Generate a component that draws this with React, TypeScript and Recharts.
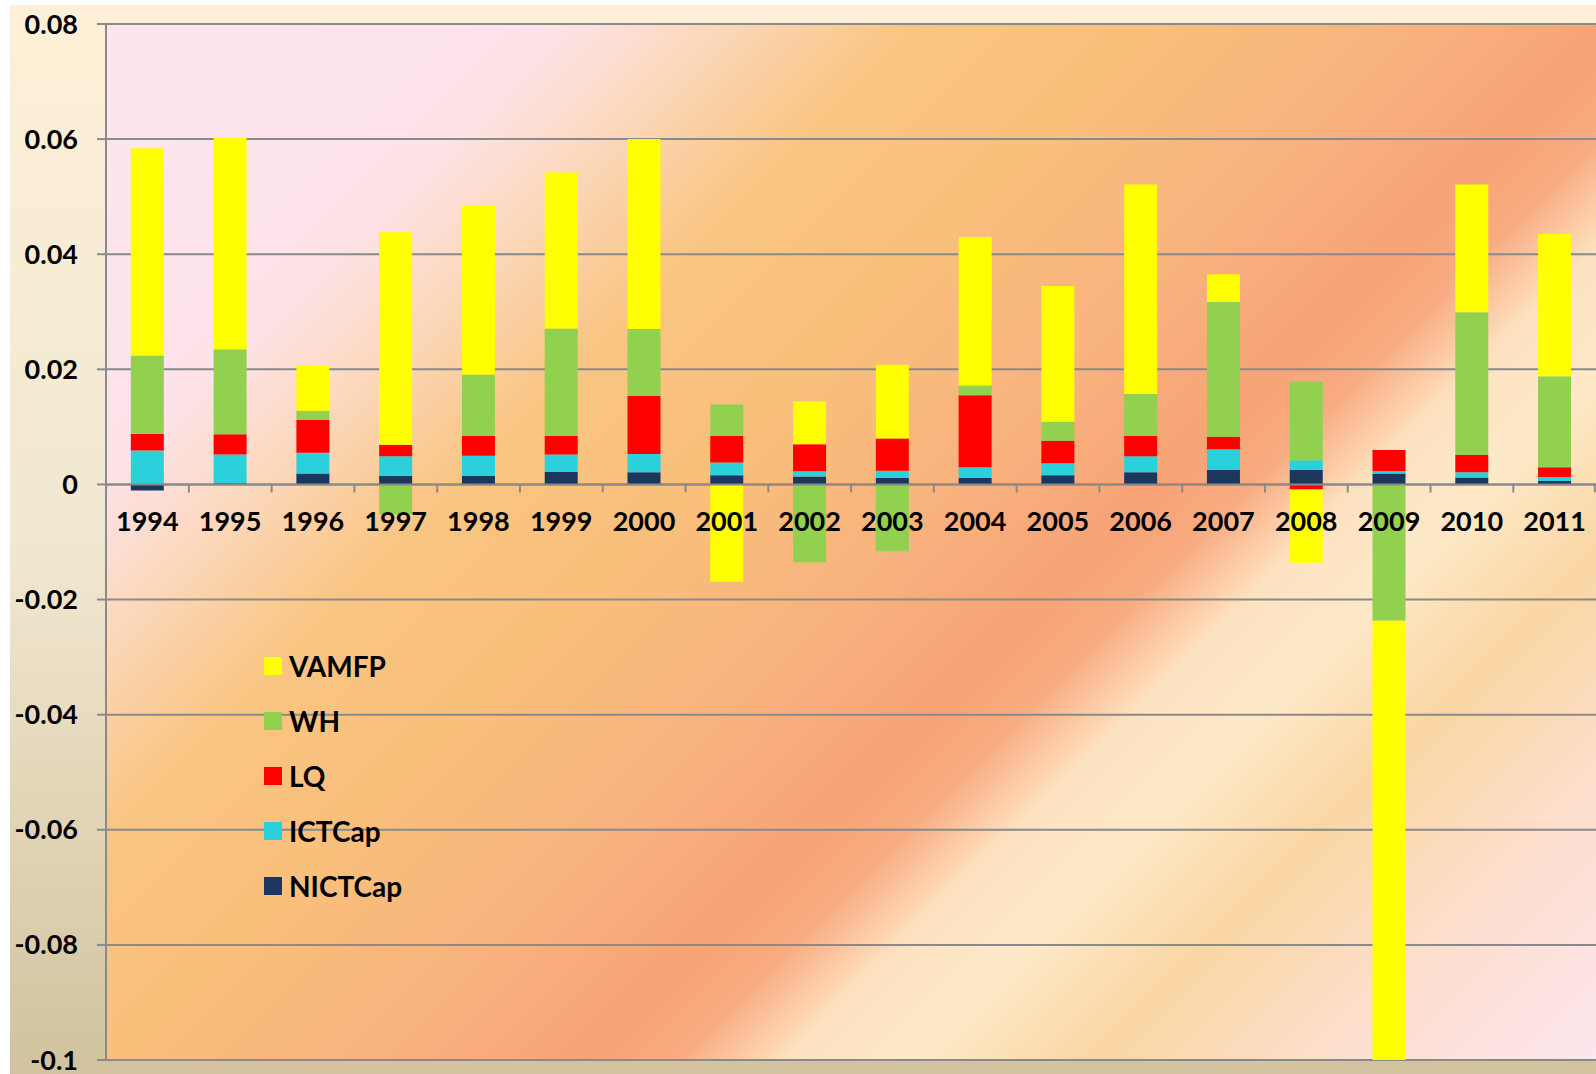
import React from 'react';
import { BarChart, Bar, XAxis, YAxis, CartesianGrid, LabelList, ReferenceLine, Legend } from 'recharts';

const years = ['1994', '1995', '1996', '1997', '1998', '1999', '2000', '2001', '2002', '2003', '2004', '2005', '2006', '2007', '2008', '2009', '2010', '2011'];
const NICTCap = [-0.00105, 0.0002, 0.0019, 0.0015, 0.0015, 0.0022, 0.0021, 0.0016, 0.0014, 0.0011, 0.0011, 0.0016, 0.0021, 0.0025, 0.0025, 0.0019, 0.0012, 0.0006];
const ICTCap = [0.0059, 0.005, 0.0036, 0.0034, 0.0035, 0.003, 0.0032, 0.0022, 0.0009, 0.0013, 0.0019, 0.0021, 0.0028, 0.0036, 0.0017, 0.0004, 0.0009, 0.0007];
const LQ = [0.0029, 0.0035, 0.0057, 0.002, 0.0034, 0.0032, 0.0101, 0.0046, 0.0047, 0.0056, 0.0125, 0.0039, 0.0035, 0.0022, -0.0009, 0.0037, 0.003, 0.0017];
const WH = [0.0136, 0.0148, 0.0016, -0.0052, 0.0107, 0.0187, 0.0116, 0.0055, -0.0135, -0.0116, 0.0017, 0.0033, 0.0073, 0.0234, 0.0137, -0.0237, 0.0248, 0.0158];
const VAMFP = [0.036, 0.0367, 0.0078, 0.0369, 0.0293, 0.0271, 0.033, -0.0169, 0.0074, 0.0128, 0.0258, 0.0236, 0.0364, 0.0048, -0.0127, -0.0763, 0.0222, 0.0247];
const yTicks = [-0.1, -0.08, -0.06, -0.04, -0.02, 0, 0.02, 0.04, 0.06, 0.08];

const series = [
  { key: 'NICTCap', values: NICTCap, color: '#1b375d' },
  { key: 'ICTCap', values: ICTCap, color: '#2bd1da' },
  { key: 'LQ', values: LQ, color: '#ff0000' },
  { key: 'WH', values: WH, color: '#92d050' },
  { key: 'VAMFP', values: VAMFP, color: '#ffff00' },
];
const legendOrder = ['VAMFP', 'WH', 'LQ', 'ICTCap', 'NICTCap'];

const data = years.map((year, i) => {
  const row: any = { year };
  series.forEach((s) => { row[s.key] = s.values[i]; });
  return row;
});

const FONT = 'Lato, "Open Sans", sans-serif';
const CAT_FRACTION = 0.4; // bar width as fraction of band (barCategoryGap 30% per side)

const YearLabel = (props: any) => {
  const vb = props.viewBox || {};
  const x = Number(vb.x ?? props.x);
  const y = Number(vb.y ?? props.y);
  const w = Number(vb.width ?? props.width);
  const h = Number(vb.height ?? props.height);
  const index = Number(props.index);
  if (!isFinite(x) || !isFinite(y) || !isFinite(w) || !isFinite(h)) return null;
  const v = NICTCap[index];
  const zeroY = v >= 0 ? Math.max(y, y + h) : Math.min(y, y + h);
  const cx = x + w / 2;
  const band = w / CAT_FRACTION;
  const left = cx - band / 2;
  const right = cx + band / 2;
  return (
    <g>
      <line x1={left} x2={left} y1={zeroY} y2={zeroY + 8} stroke="#8a8a8a" strokeWidth={2} />
      {index === years.length - 1 && (
        <line x1={right - 1} x2={right - 1} y1={zeroY} y2={zeroY + 8} stroke="#8a8a8a" strokeWidth={2} />
      )}
      <text x={cx} y={zeroY + 47} textAnchor="middle" fontFamily={FONT} fontWeight={700} fontSize={27} fill="#000">
        {years[index]}
      </text>
    </g>
  );
};

const LegendContent = () => {
  const colorOf = (k: string) => series.find((s) => s.key === k)!.color;
  return (
    <div style={{ fontFamily: FONT, fontWeight: 700, fontSize: 28, color: '#000' }}>
      {legendOrder.map((k) => (
        <div key={k} style={{ display: 'flex', alignItems: 'center', height: 55 }}>
          <span style={{ display: 'inline-block', width: 18, height: 18, background: colorOf(k), marginRight: 7 }} />
          <span style={{ lineHeight: '28px' }}>{k}</span>
        </div>
      ))}
    </div>
  );
};

const fmt = (v: number) => String(Math.round(v * 100) / 100);

export default function App() {
  return (
    <div style={{ position: 'absolute', left: 10, top: 5, width: 1586, height: 1069, background: 'linear-gradient(180deg, #fdf0d7 0%, #f1e8d1 50%, #d2c39e 100%)' }}>
      <svg width={0} height={0} style={{ position: 'absolute' }}>
        <defs>
          <linearGradient id="plotBg" gradientUnits="userSpaceOnUse" x1={96} y1={19} x2={96 + 1263} y2={19 + 1263}>
            <stop offset="0" stopColor="#fde5f0" />
            <stop offset="0.18" stopColor="#fde3e8" />
            <stop offset="0.25" stopColor="#fbd6b6" />
            <stop offset="0.32" stopColor="#f9c582" />
            <stop offset="0.42" stopColor="#f9bf7b" />
            <stop offset="0.52" stopColor="#f8b27e" />
            <stop offset="0.6" stopColor="#f7a376" />
            <stop offset="0.635" stopColor="#f8ab80" />
            <stop offset="0.68" stopColor="#fde2c0" />
            <stop offset="0.73" stopColor="#fde9c8" />
            <stop offset="0.8" stopColor="#fad6a3" />
            <stop offset="0.9" stopColor="#fddfd0" />
            <stop offset="1" stopColor="#fde6ee" />
          </linearGradient>
        </defs>
      </svg>
      <BarChart
        width={1586}
        height={1069}
        data={data}
        stackOffset="sign"
        barCategoryGap="30%"
        margin={{ top: 19, right: 0, bottom: 14, left: 0 }}
      >
        <CartesianGrid vertical={false} stroke="#8a8a8a" strokeWidth={2} fill="url(#plotBg)" fillOpacity={1} />
        <XAxis dataKey="year" hide />
        <YAxis
          domain={[-0.1, 0.08]}
          ticks={yTicks}
          allowDataOverflow
          width={96}
          tickSize={9}
          tickMargin={19}
          tickFormatter={fmt}
          axisLine={{ stroke: '#8a8a8a', strokeWidth: 2 }}
          tickLine={{ stroke: '#8a8a8a', strokeWidth: 2 }}
          tick={{ fill: '#000', fontFamily: FONT, fontWeight: 700, fontSize: 27 }}
          interval={0}
        />
        {series.map((s, i) => (
          <Bar key={s.key} dataKey={s.key} stackId="a" fill={s.color} isAnimationActive={false}>
            {i === 0 && <LabelList dataKey="year" content={<YearLabel />} />}
          </Bar>
        ))}
        <ReferenceLine y={0} stroke="#8a8a8a" strokeWidth={2} />
        <Legend
          layout="horizontal"
          verticalAlign="middle"
          align="center"
          content={<LegendContent />}
          wrapperStyle={{ position: 'absolute', left: 254, top: 633, width: 220, height: 280 }}
        />
      </BarChart>
    </div>
  );
}
